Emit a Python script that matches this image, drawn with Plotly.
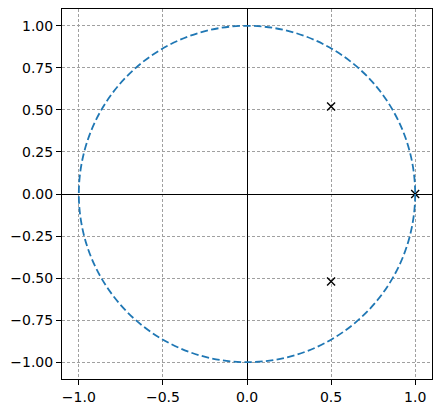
import plotly.graph_objects as go

# Data
pole_real = [0.5, 0.5, 1.0]
pole_imag = [0.52, -0.52, 0.0]
circle_radius = 1.0
x_ticks = [-1.0, -0.5, 0.0, 0.5, 1.0]
y_ticks = [-1.0, -0.75, -0.5, -0.25, 0.0, 0.25, 0.5, 0.75, 1.0]

FONT = dict(family="DejaVu Sans", size=14, color="black")

fig = go.Figure()

fig.add_shape(
    type="circle", xref="x", yref="y",
    x0=-circle_radius, y0=-circle_radius, x1=circle_radius, y1=circle_radius,
    line=dict(color="#1f77b4", width=1.8, dash="7.5px,3.3px"),
    layer="above",
)

fig.add_trace(go.Scatter(
    x=pole_real, y=pole_imag, mode="markers",
    marker=dict(symbol="x-thin", size=8, line=dict(color="black", width=1.4), color="black"),
    showlegend=False, hoverinfo="skip",
))

axis_common = dict(
    showgrid=True, gridcolor="#a0a0a0", gridwidth=0.5, griddash="3px,2px",
    zeroline=True, zerolinecolor="black", zerolinewidth=0.8,
    showline=True, linecolor="black", linewidth=1, mirror=True,
    ticks="outside", ticklen=5, tickwidth=1, tickcolor="black",
    tickfont=FONT, automargin=False,
)

fig.update_xaxes(range=[-1.1, 1.1], tickvals=x_ticks, tickformat=".1f", **axis_common)
fig.update_yaxes(range=[-1.1, 1.1], tickvals=y_ticks, tickformat=".2f", **axis_common)

fig.update_layout(
    width=441, height=413,
    margin=dict(l=62, r=9, t=9, b=34),
    plot_bgcolor="white", paper_bgcolor="white",
    font=FONT,
    showlegend=False,
)

fig.write_html(
    "out.html",
    config={"displayModeBar": False},
    post_script="document.body.style.margin='0';document.body.style.overflow='hidden';",
)
